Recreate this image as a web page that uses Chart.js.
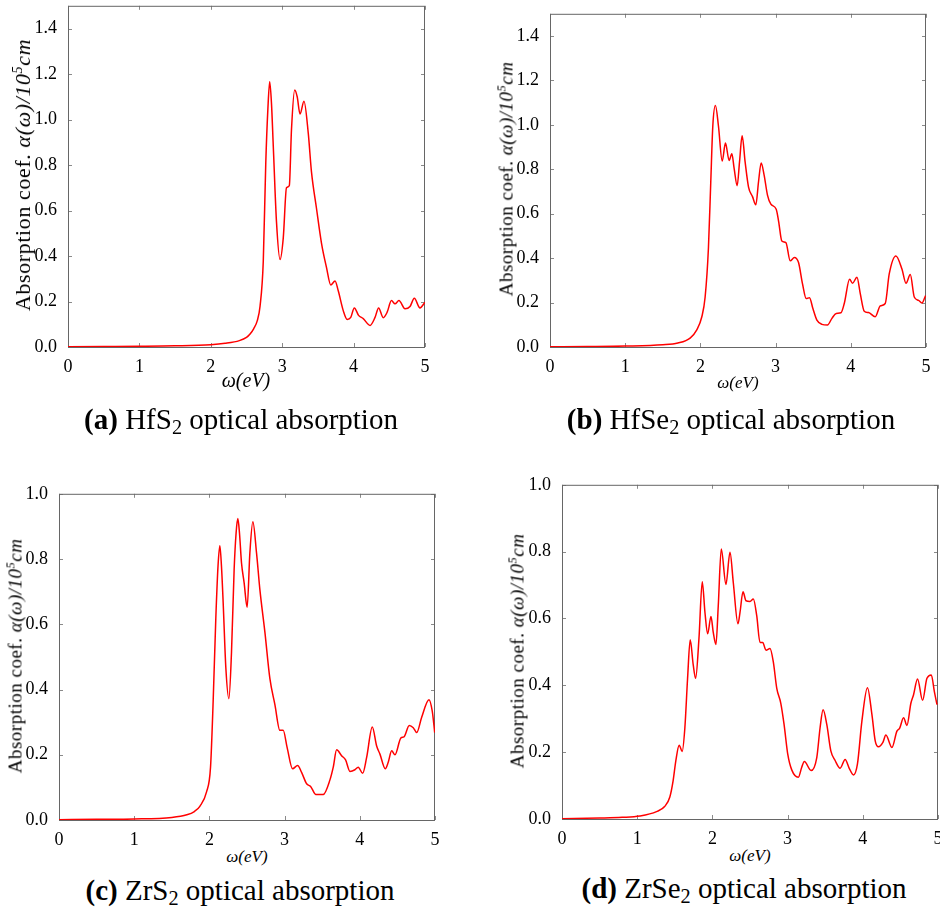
<!DOCTYPE html>
<html lang="en">
<head>
<meta charset="UTF-8">
<title>Optical absorption</title>
<script src="https://cdn.jsdelivr.net/npm/chart.js"></script>
<style>
    html, body {
        margin: 0;
        padding: 0;
        background: #fff;
        overflow: hidden;
    }
    #wrap {
        position: relative;
        width: 940px;
        height: 910px;
    }
    canvas {
        position: absolute;
    }
    .lbl {
        position: absolute;
        white-space: nowrap;
        line-height: 1;
        color: #000;
        font-family: "Liberation Serif", serif;
        transform: translate(-50%, -50%);
    }
    .ytitle {
        transform: translate(-50%, -50%) rotate(-90deg);
        letter-spacing: 0.5px;
    }
    .cap {
        font-size: 29px;
    }
    .cap sub {
        font-size: 0.7em;
        vertical-align: -0.25em;
        line-height: 0;
    }
    sup {
        font-size: 0.65em;
        vertical-align: 0.55em;
        line-height: 0;
    }
</style>
</head>
<body>
<div id="wrap">
    <canvas id="chartA"></canvas>
    <canvas id="chartB"></canvas>
    <canvas id="chartC"></canvas>
    <canvas id="chartD"></canvas>

    <div class="lbl ytitle" style="left:23px;top:175px;font-size:22px;letter-spacing:0.6px">Absorption coef. <i>α(ω)/10<sup>5</sup>cm</i></div>
    <div class="lbl ytitle" style="left:506px;top:179px;font-size:19px">Absorption coef. <i>α(ω)/10<sup>5</sup>cm</i></div>
    <div class="lbl ytitle" style="left:15px;top:656px;font-size:19px">Absorption coef. <i>α(ω)/10<sup>5</sup>cm</i></div>
    <div class="lbl ytitle" style="left:517px;top:651px;font-size:19px">Absorption coef. <i>α(ω)/10<sup>5</sup>cm</i></div>

    <div class="lbl" style="left:246px;top:380px;font-size:20px"><i>ω(eV)</i></div>
    <div class="lbl" style="left:738px;top:382px;font-size:17px"><i>ω(eV)</i></div>
    <div class="lbl" style="left:247px;top:856px;font-size:17px"><i>ω(eV)</i></div>
    <div class="lbl" style="left:750px;top:855px;font-size:17px"><i>ω(eV)</i></div>

    <div class="lbl cap" style="left:241px;top:419px"><b>(a)</b> HfS<sub>2</sub> optical absorption</div>
    <div class="lbl cap" style="left:731px;top:419px"><b>(b)</b> HfSe<sub>2</sub> optical absorption</div>
    <div class="lbl cap" style="left:240px;top:890px"><b>(c)</b> ZrS<sub>2</sub> optical absorption</div>
    <div class="lbl cap" style="left:744px;top:888px"><b>(d)</b> ZrSe<sub>2</sub> optical absorption</div>
</div>
<script>
// photon energy (eV) and absorption coefficient (10^5 /cm)
const hfs2E = [0, 0.5, 1.0, 1.5, 2.0, 2.2, 2.4, 2.5, 2.55, 2.6, 2.65, 2.69, 2.735, 2.77, 2.80, 2.825, 2.85, 2.875, 2.92, 2.97,
    3.015, 3.06, 3.10, 3.13, 3.175, 3.21, 3.25, 3.305, 3.365, 3.41, 3.48, 3.55, 3.62, 3.68, 3.74, 3.785, 3.855, 3.91, 3.96, 4.01,
    4.07, 4.135, 4.23, 4.30, 4.35, 4.415, 4.47, 4.53, 4.58, 4.635, 4.72, 4.79, 4.85, 4.93, 5.0];
const hfs2A = [0.001, 0.002, 0.003, 0.005, 0.01, 0.016, 0.028, 0.042, 0.057, 0.08, 0.115, 0.18, 0.377, 0.81, 1.05, 1.166, 1.07, 0.884, 0.55, 0.385,
    0.48, 0.70, 0.71, 0.956, 1.13, 1.10, 1.024, 1.08, 0.94, 0.77, 0.61, 0.457, 0.35, 0.273, 0.29, 0.247, 0.16, 0.121, 0.13, 0.172,
    0.139, 0.125, 0.095, 0.13, 0.172, 0.129, 0.153, 0.204, 0.19, 0.204, 0.168, 0.178, 0.214, 0.172, 0.197];

const hfse2E = [0, 0.5, 1.0, 1.5, 1.7, 1.863, 1.952, 2.019, 2.063, 2.107, 2.138, 2.165, 2.20, 2.24, 2.29, 2.333, 2.382, 2.418, 2.449, 2.489,
    2.52, 2.555, 2.595, 2.64, 2.693, 2.737, 2.773, 2.808, 2.848, 2.892, 2.937, 3.008, 3.04, 3.083, 3.137, 3.194, 3.25, 3.305, 3.358, 3.407,
    3.451, 3.496, 3.549, 3.616, 3.69, 3.749, 3.806, 3.869, 3.913, 3.984, 4.023, 4.082, 4.126, 4.179, 4.236, 4.325, 4.392, 4.458, 4.511, 4.60,
    4.68, 4.734, 4.791, 4.844, 4.901, 4.946, 4.995];
const hfse2A = [0.001, 0.002, 0.004, 0.01, 0.018, 0.04, 0.077, 0.136, 0.225, 0.447, 0.744, 0.995, 1.087, 0.995, 0.837, 0.918, 0.84, 0.87, 0.803, 0.726,
    0.832, 0.951, 0.832, 0.72, 0.677, 0.64, 0.744, 0.828, 0.773, 0.684, 0.643, 0.62, 0.566, 0.477, 0.47, 0.388, 0.403, 0.38, 0.284, 0.218,
    0.222, 0.173, 0.121, 0.102, 0.099, 0.129, 0.151, 0.154, 0.196, 0.305, 0.287, 0.314, 0.24, 0.161, 0.155, 0.136, 0.185, 0.196, 0.329, 0.41,
    0.351, 0.287, 0.326, 0.225, 0.21, 0.198, 0.232];

const zrs2E = [0, 0.5, 1.0, 1.5, 1.7, 1.8, 1.873, 1.962, 2.015, 2.05, 2.085, 2.115, 2.139, 2.16, 2.183, 2.219, 2.259, 2.294, 2.329, 2.355,
    2.378, 2.40, 2.427, 2.462, 2.502, 2.538, 2.578, 2.627, 2.671, 2.738, 2.804, 2.871, 2.937, 2.981, 3.034, 3.106, 3.173, 3.226, 3.293, 3.346,
    3.416, 3.513, 3.603, 3.647, 3.692, 3.758, 3.811, 3.869, 3.935, 3.979, 4.038, 4.091, 4.166, 4.224, 4.268, 4.339, 4.378, 4.424, 4.468, 4.547,
    4.587, 4.658, 4.711, 4.757, 4.823, 4.92, 4.964, 4.996];
const zrs2A = [0.001, 0.002, 0.003, 0.008, 0.016, 0.026, 0.042, 0.086, 0.162, 0.364, 0.616, 0.78, 0.841, 0.78, 0.667, 0.465, 0.372, 0.515, 0.768, 0.88,
    0.924, 0.88, 0.788, 0.727, 0.652, 0.818, 0.914, 0.818, 0.707, 0.576, 0.434, 0.354, 0.275, 0.275, 0.222, 0.157, 0.167, 0.146, 0.111, 0.103,
    0.078, 0.078, 0.123, 0.162, 0.215, 0.197, 0.184, 0.149, 0.154, 0.162, 0.143, 0.192, 0.285, 0.227, 0.202, 0.157, 0.177, 0.212, 0.2, 0.252,
    0.255, 0.29, 0.283, 0.268, 0.315, 0.369, 0.333, 0.268];

const zrse2E = [0, 0.5, 0.8, 1.035, 1.257, 1.368, 1.434, 1.478, 1.514, 1.558, 1.598, 1.634, 1.67, 1.705, 1.745, 1.777, 1.821, 1.865, 1.901, 1.937,
    1.981, 2.011, 2.047, 2.078, 2.118, 2.18, 2.234, 2.278, 2.34, 2.367, 2.407, 2.447, 2.5, 2.544, 2.589, 2.633, 2.669, 2.713, 2.766, 2.81,
    2.856, 2.909, 2.953, 3.002, 3.055, 3.143, 3.188, 3.223, 3.312, 3.388, 3.432, 3.472, 3.521, 3.575, 3.632, 3.699, 3.765, 3.823, 3.876, 3.929,
    3.988, 4.062, 4.121, 4.165, 4.209, 4.267, 4.307, 4.387, 4.454, 4.489, 4.542, 4.587, 4.64, 4.675, 4.728, 4.795, 4.853, 4.911, 4.951, 4.987];
const zrse2A = [0.001, 0.003, 0.005, 0.009, 0.022, 0.038, 0.066, 0.115, 0.175, 0.221, 0.202, 0.273, 0.421, 0.536, 0.461, 0.421, 0.539, 0.71, 0.618, 0.554,
    0.606, 0.559, 0.522, 0.638, 0.808, 0.702, 0.798, 0.707, 0.584, 0.618, 0.68, 0.653, 0.651, 0.658, 0.609, 0.528, 0.528, 0.505, 0.51, 0.47,
    0.391, 0.347, 0.283, 0.194, 0.147, 0.125, 0.155, 0.172, 0.145, 0.184, 0.273, 0.327, 0.283, 0.204, 0.175, 0.152, 0.178, 0.15, 0.132, 0.165,
    0.293, 0.393, 0.313, 0.234, 0.216, 0.229, 0.251, 0.214, 0.263, 0.271, 0.303, 0.28, 0.347, 0.372, 0.419, 0.355, 0.421, 0.431, 0.382, 0.342];

// tick labels
const xTicks = [0, 1, 2, 3, 4, 5];
const yTicksHf = [0, 0.2, 0.4, 0.6, 0.8, 1.0, 1.2, 1.4];
const yTicksZr = [0, 0.2, 0.4, 0.6, 0.8, 1.0];

// matplotlib-like frame with inward ticks on all four sides
const framePlugin = {
    id: 'frame',
    beforeDatasetsDraw(chart) {
        const { ctx, chartArea: a, scales: { x, y } } = chart;
        ctx.save();
        ctx.lineWidth = 1;
        ctx.strokeStyle = '#8a8a8a';
        ctx.beginPath();
        x.ticks.forEach(t => {
            const px = Math.round(x.getPixelForValue(t.value)) + 0.5;
            ctx.moveTo(px, a.bottom); ctx.lineTo(px, a.bottom - 4);
            ctx.moveTo(px, a.top); ctx.lineTo(px, a.top + 4);
        });
        y.ticks.forEach(t => {
            const py = Math.round(y.getPixelForValue(t.value)) + 0.5;
            ctx.moveTo(a.left, py); ctx.lineTo(a.left + 4, py);
            ctx.moveTo(a.right, py); ctx.lineTo(a.right - 4, py);
        });
        ctx.stroke();
        ctx.strokeStyle = '#666';
        ctx.strokeRect(a.left + 0.5, a.top + 0.5, a.right - a.left - 1, a.bottom - a.top);
        ctx.restore();
    }
};

function makePanel(id, box, xs, ys, yMax, yTicks) {
    const padL = 50, padT = 10, padR = 14, padB = 26;
    const cv = document.getElementById(id);
    cv.width = box.r - box.l + padL + padR;
    cv.height = box.b - box.t + padT + padB;
    cv.style.left = (box.l - padL) + 'px';
    cv.style.top = (box.t - padT) + 'px';

    const tickFont = { family: "'Liberation Serif', serif", size: 18 };
    return new Chart(cv, {
        type: 'line',
        data: {
            datasets: [{
                data: xs.map((x, i) => ({ x: x, y: ys[i] })),
                borderColor: '#ff0000',
                borderWidth: 1.5,
                pointRadius: 0,
                fill: false,
                cubicInterpolationMode: 'monotone'
            }]
        },
        options: {
            responsive: false,
            animation: false,
            events: [],
            layout: { padding: { top: padT, right: padR, left: 0, bottom: 0 } },
            plugins: { legend: { display: false }, tooltip: { enabled: false } },
            scales: {
                x: {
                    type: 'linear', min: 0, max: 5,
                    afterBuildTicks: s => { s.ticks = xTicks.map(v => ({ value: v })); },
                    afterFit: s => { s.height = padB; },
                    grid: { display: false },
                    border: { display: false },
                    ticks: { padding: 1, color: '#000', font: tickFont, maxRotation: 0, autoSkip: false, callback: v => String(v) }
                },
                y: {
                    type: 'linear', min: 0, max: yMax,
                    afterBuildTicks: s => { s.ticks = yTicks.map(v => ({ value: v })); },
                    afterFit: s => { s.width = padL; },
                    grid: { display: false },
                    border: { display: false },
                    ticks: { padding: 3, color: '#000', font: tickFont, autoSkip: false, callback: v => v.toFixed(1) }
                }
            }
        },
        plugins: [framePlugin]
    });
}

function drawAll() {
    Chart.defaults.font.family = "'Liberation Serif', serif";
    makePanel('chartA', { l: 68, t: 2, r: 425, b: 347 }, hfs2E, hfs2A, 1.5, yTicksHf);
    makePanel('chartB', { l: 550, t: 10, r: 926, b: 347 }, hfse2E, hfse2A, 1.5, yTicksHf);
    makePanel('chartC', { l: 59, t: 490, r: 435, b: 820 }, zrs2E, zrs2A, 1.0, yTicksZr);
    makePanel('chartD', { l: 562, t: 481, r: 938, b: 819 }, zrse2E, zrse2A, 1.0, yTicksZr);
}

document.fonts.load("18px 'Liberation Serif'").then(drawAll, drawAll);
</script>
</body>
</html>
